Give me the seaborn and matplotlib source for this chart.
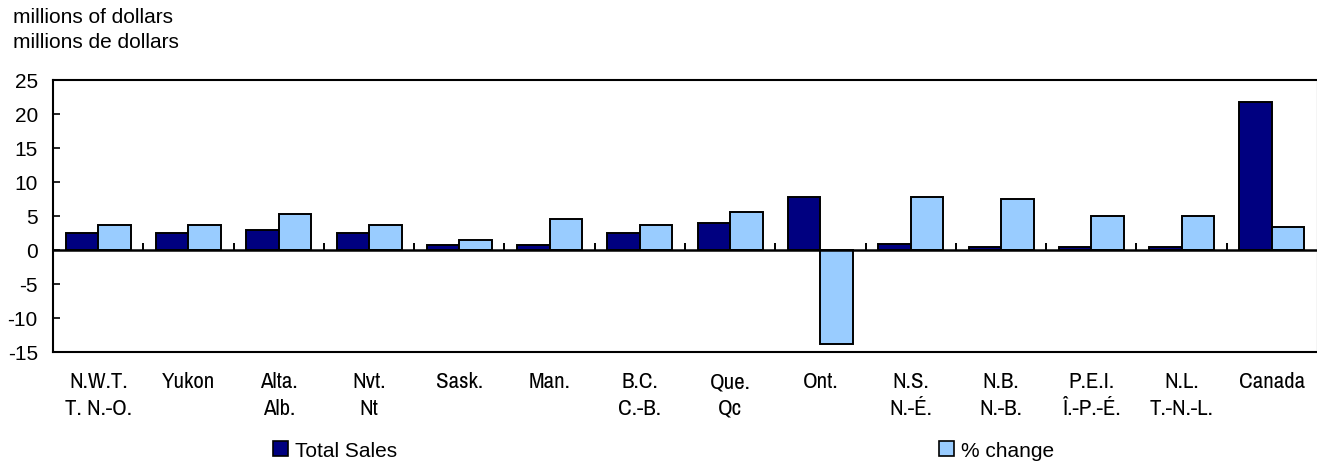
import pandas as pd
import matplotlib.pyplot as plt
import matplotlib.patches as mpatches
from matplotlib import font_manager
import seaborn as sns

# --------------------------
# Data
# --------------------------
regions = ["N.W.T.\nT. N.-O.", "Yukon", "Alta.\nAlb.", "Nvt.\nNt", "Sask.", "Man.",
           "B.C.\nC.-B.", "Que.\nQc", "Ont.", "N.S.\nN.-É.", "N.B.\nN.-B.",
           "P.E.I.\nÎ.-P.-É.", "N.L.\nT.-N.-L.", "Canada"]
total_sales = [2.5, 2.5, 2.9, 2.5, 0.7, 0.7, 2.5, 4.0, 7.8, 0.8, 0.45, 0.45, 0.45, 21.8]
pct_change = [3.7, 3.7, 5.2, 3.7, 1.4, 4.5, 3.7, 5.5, -13.9, 7.8, 7.5, 4.9, 4.9, 3.4]
series = ["Total Sales", "% change"]
colors = ["#000080", "#99CCFF"]

df = pd.DataFrame({
    "Region": regions * 2,
    "Value": total_sales + pct_change,
    "Series": [series[0]] * len(regions) + [series[1]] * len(regions),
})

# --------------------------
# Setup
# --------------------------
sns.set_style("white")
plt.rcParams["font.family"] = ["Liberation Sans", "DejaVu Sans"]
plt.rcParams["axes.unicode_minus"] = False
for key in ["text.color", "xtick.color", "ytick.color", "axes.labelcolor"]:
    plt.rcParams[key] = "black"

# look for a condensed face for the category labels (like Arial Narrow)
narrow = None
for f in font_manager.fontManager.ttflist:
    if "Narrow" in f.name or "Condensed" in f.name:
        narrow = f.name
        break
if narrow:
    xfont, xsize = [narrow, "DejaVu Sans"], 16.5
else:
    xfont, xsize = ["Liberation Sans", "DejaVu Sans"], 13.7

fig = plt.figure(figsize=(13.17, 4.64), dpi=100)
ax = fig.add_axes([0.0403, 0.2399, 0.9597, 0.586])

sns.barplot(data=df, x="Region", y="Value", hue="Series", palette=colors,
            saturation=1, edgecolor="black", linewidth=1.4, width=0.72, gap=0,
            ax=ax, legend=False)

ax.set_ylim(-15, 25)
ax.set_xlim(-0.5, len(regions) - 0.5)
ax.set_yticks(range(-15, 26, 5))
ax.tick_params(axis="y", direction="in", length=5, width=1.2, labelsize=15, pad=11,
               left=True)
ax.tick_params(axis="x", length=0, pad=14)
for lab in ax.get_xticklabels():
    lab.set_family(xfont)
    lab.set_fontsize(xsize)
    lab.set_verticalalignment("top")
    lab.set_linespacing(1.4)
ax.set_xlabel("")
ax.set_ylabel("")

for side in ["top", "bottom", "left"]:
    ax.spines[side].set_visible(True)
    ax.spines[side].set_color("black")
    ax.spines[side].set_linewidth(1.5)
ax.spines["right"].set_visible(True)
ax.spines["right"].set_color("#cccccc")
ax.spines["right"].set_linewidth(1)

# zero line with tick marks between categories
ax.axhline(0, color="black", linewidth=1.8, zorder=3)
sec = ax.secondary_xaxis(15 / 40)
sec.set_xticks([i + 0.5 for i in range(len(regions) - 1)])
sec.tick_params(direction="in", length=5, width=1.4, labelbottom=False,
                labeltop=False)
sec.spines["bottom"].set_visible(False)

fig.text(0.0095, 0.9515, "millions of dollars", fontsize=15, va="baseline")
fig.text(0.0095, 0.8955, "millions de dollars", fontsize=15, va="baseline")

handles = [mpatches.Patch(facecolor=c, edgecolor="black", linewidth=1.2) for c in colors]
fig.legend(handles, series, loc="center", bbox_to_anchor=(0.504, 0.028), ncol=2,
           frameon=False, fontsize=15, handlelength=0.72, handleheight=0.72,
           handletextpad=0.34, columnspacing=26, borderpad=0, borderaxespad=0)

plt.savefig("out.png", dpi=100)
plt.close()
